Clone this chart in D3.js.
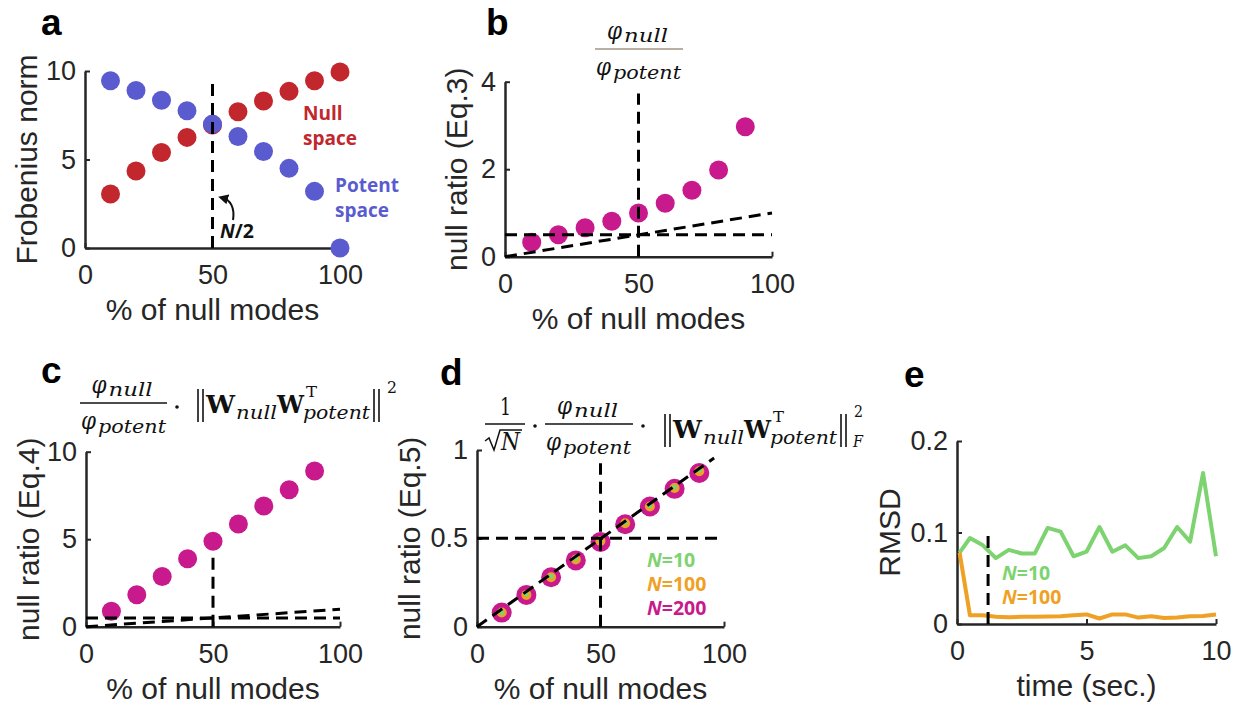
<!DOCTYPE html>
<html>
<head>
<meta charset="utf-8">
<script src="https://cdn.jsdelivr.net/npm/d3@7"></script>
<style>
  body { margin: 0; background: #fff; }
</style>
</head>
<body>
<div id="chart"></div>
<script>
// x values (% of null modes)
const nullModesA = [10, 20, 30, 40, 50, 60, 70, 80, 90, 100];
const nullModes = [10, 20, 30, 40, 50, 60, 70, 80, 90];

// panel a: Frobenius norm
const nullSpaceNorm = [3.05, 4.35, 5.4, 6.25, 6.95, 7.7, 8.3, 8.85, 9.45, 9.95];
const potentSpaceNorm = [9.45, 8.9, 8.35, 7.75, 7.0, 6.3, 5.45, 4.5, 3.2, 0];

// panel b, c: null ratio
const nullRatioEq3 = [0.33, 0.5, 0.66, 0.81, 1.0, 1.22, 1.52, 1.98, 2.97];
const nullRatioEq4 = [0.88, 1.83, 2.87, 3.88, 4.88, 5.87, 6.9, 7.83, 8.9];

// panel d: null ratio (Eq.5) for three network sizes
const eq5N200 = [0.08, 0.18, 0.28, 0.375, 0.48, 0.58, 0.68, 0.78, 0.87];
const eq5N100 = [0.08, 0.18, 0.28, 0.38, 0.485, 0.585, 0.68, 0.785, 0.88];
const eq5N10 = [0.08, 0.185, 0.285, 0.385, 0.49, 0.59, 0.685, 0.79, 0.885];

// panel e: RMSD over time
const timeSec = [0.1, 0.5, 1, 1.5, 2, 2.5, 3, 3.5, 4, 4.5, 5, 5.5, 6, 6.5, 7, 7.5, 8, 8.5, 9, 9.5, 10];
const rmsdN10 = [0.078, 0.094, 0.086, 0.072, 0.081, 0.077, 0.077, 0.105, 0.101, 0.074, 0.079, 0.106, 0.079, 0.086, 0.072, 0.074, 0.083, 0.106, 0.09, 0.165, 0.074];
const rmsdN100 = [0.078, 0.0095, 0.0095, 0.008, 0.0075, 0.0078, 0.008, 0.0082, 0.0085, 0.0095, 0.0105, 0.006, 0.0105, 0.0105, 0.007, 0.0085, 0.0065, 0.007, 0.0085, 0.0088, 0.0105];

// dashed reference lines, in data units
const refA = [[50, 0, 50, 9.4]];
const refB = [[0, 0.5, 100, 0.5], [0, 0, 100, 1], [50, 0, 50, 3.73]];
const refC = [[0, 0.5, 100, 0.5], [0, 0, 100, 1], [50, 0, 50, 4.1]];
const refD = [[0, 0.5, 97.5, 0.5], [0, 0, 96, 0.955], [50, 0, 50, 0.925]];
const refE = [[1.2, 0, 1.2, 0.099]];

const RED = '#c1272d', BLUE = '#5b5bd0', MAGENTA = '#c81a8c', ORANGE = '#efa126', GREEN = '#7dd36f';
const INK = '#262626';
const SANS = '"Liberation Sans", Arial, sans-serif';
const SERIF = '"DejaVu Serif", serif';

const svg = d3.select('#chart').append('svg')
  .attr('width', 1241)
  .attr('height', 710)
  .style('background', '#fff');

// builds the axes of one panel and returns its scales
function makePanel(box, xDom, yDom, xTicks, yTicks, xLabel, yLabel, yLabelX) {
  const g = svg.append('g');
  const x = d3.scaleLinear().domain(xDom).range([box.left, box.right]);
  const y = d3.scaleLinear().domain(yDom).range([box.bottom, box.top]);

  const xAxis = g.append('g')
    .attr('transform', `translate(0,${box.bottom})`)
    .call(d3.axisBottom(x).tickValues(xTicks).tickSizeInner(-5).tickSizeOuter(0).tickPadding(17).tickFormat(d => String(d)));
  const yAxis = g.append('g')
    .attr('transform', `translate(${box.left},0)`)
    .call(d3.axisLeft(y).tickValues(yTicks).tickSizeInner(-5).tickSizeOuter(0).tickPadding(9).tickFormat(d => String(d)));

  [xAxis, yAxis].forEach(a => {
    a.attr('font-family', SANS).attr('font-size', 27);
    a.select('.domain').attr('stroke', INK).attr('stroke-width', 2.5);
    a.selectAll('.tick line').attr('stroke', INK).attr('stroke-width', 2);
    a.selectAll('.tick text').attr('fill', INK);
  });

  g.append('text')
    .attr('x', (box.left + box.right) / 2)
    .attr('y', box.bottom + 72)
    .attr('text-anchor', 'middle')
    .attr('font-family', SANS).attr('font-size', 30).attr('fill', INK)
    .text(xLabel);
  g.append('text')
    .attr('transform', `translate(${yLabelX},${(box.top + box.bottom) / 2}) rotate(-90)`)
    .attr('text-anchor', 'middle')
    .attr('font-family', SANS).attr('font-size', 30).attr('fill', INK)
    .text(yLabel);
  return { g, x, y };
}

function dots(p, xs, ys, color, r) {
  p.g.append('g').selectAll('circle')
    .data(xs.map((d, i) => [d, ys[i]]))
    .join('circle')
    .attr('cx', d => p.x(d[0]))
    .attr('cy', d => p.y(d[1]))
    .attr('r', r)
    .attr('fill', color);
}

function dashed(p, lines) {
  p.g.append('g').selectAll('line')
    .data(lines)
    .join('line')
    .attr('x1', d => p.x(d[0])).attr('y1', d => p.y(d[1]))
    .attr('x2', d => p.x(d[2])).attr('y2', d => p.y(d[3]))
    .attr('stroke', '#000')
    .attr('stroke-width', 3)
    .attr('stroke-dasharray', '12,7');
}

function label(x, y, t, color, size, parts) {
  const txt = svg.append('text')
    .attr('x', x).attr('y', y)
    .attr('font-family', '"Open Sans", sans-serif')
    .attr('font-weight', 'bold')
    .attr('font-size', size)
    .attr('fill', color);
  if (parts) {
    txt.append('tspan').attr('font-style', 'italic').text(parts[0]);
    txt.append('tspan').text(parts[1]);
  } else {
    txt.text(t);
  }
}

function panelLetter(x, y, t) {
  svg.append('text')
    .attr('x', x).attr('y', y)
    .attr('font-family', SANS).attr('font-weight', 'bold').attr('font-size', 37)
    .attr('fill', '#000')
    .text(t);
}

// one piece of an equation
function mathPiece(p) {
  svg.append('text')
    .attr('x', p.x).attr('y', p.y)
    .attr('font-family', SERIF)
    .attr('font-size', p.size)
    .attr('font-style', p.it ? 'italic' : 'normal')
    .attr('font-weight', p.bold ? 'bold' : 'normal')
    .attr('textLength', p.w)
    .attr('lengthAdjust', 'spacingAndGlyphs')
    .attr('fill', '#111')
    .text(p.t);
}
function hline(x1, x2, y, color) {
  svg.append('line').attr('x1', x1).attr('x2', x2).attr('y1', y).attr('y2', y)
    .attr('stroke', color || '#111').attr('stroke-width', 1.5);
}
function normBars(x, y1, y2) {
  [x, x + 5].forEach(xx => svg.append('line')
    .attr('x1', xx).attr('x2', xx).attr('y1', y1).attr('y2', y2)
    .attr('stroke', '#111').attr('stroke-width', 1.6));
}
function cdot(x, y) {
  svg.append('circle').attr('cx', x).attr('cy', y).attr('r', 1.8).attr('fill', '#111');
}
// ||W_null W^T_potent|| block
function normBlock(x0, base) {
  normBars(x0 - 8, base - 24, base + 9);
  mathPiece({ t: 'W', x: x0, y: base, w: 29, size: 24, bold: true });
  mathPiece({ t: 'null', x: x0 + 30, y: base + 6, w: 41, size: 19, it: true });
  mathPiece({ t: 'W', x: x0 + 71, y: base, w: 27, size: 24, bold: true });
  mathPiece({ t: 'T', x: x0 + 100, y: base - 16, w: 11, size: 15 });
  mathPiece({ t: 'potent', x: x0 + 97, y: base + 6, w: 67, size: 19, it: true });
  normBars(x0 + 168, base - 24, base + 9);
}
function phiFrac(x1, x2, lineY, color) {
  const cx = (x1 + x2) / 2;
  mathPiece({ t: 'φ', x: cx - 32, y: lineY - 10, w: 15, size: 24, it: true });
  mathPiece({ t: 'null', x: cx - 15, y: lineY - 7, w: 44, size: 19, it: true });
  hline(x1, x2, lineY, color);
  mathPiece({ t: 'φ', x: x1 + 1, y: lineY + 26, w: 15, size: 24, it: true });
  mathPiece({ t: 'potent', x: x1 + 18, y: lineY + 30, w: 68, size: 19, it: true });
}

// ---------- panel a ----------
const pa = makePanel({ left: 85, right: 340, top: 71, bottom: 248 }, [0, 100], [0, 10],
  [0, 50, 100], [0, 5, 10], '% of null modes', 'Frobenius norm', 37);
dots(pa, nullModesA, nullSpaceNorm, RED, 9.5);
dots(pa, nullModesA, potentSpaceNorm, BLUE, 9.5);
dashed(pa, refA);
label(303, 120, 'Null', RED, 19);
label(303, 145, 'space', RED, 19);
label(335, 192, 'Potent', BLUE, 19);
label(335, 217, 'space', BLUE, 19);
label(220, 238, null, '#111', 19.5, ['N', '/2']);
svg.append('defs').append('marker')
  .attr('id', 'arr').attr('viewBox', '0 0 10 10').attr('refX', 5).attr('refY', 5)
  .attr('markerWidth', 5).attr('markerHeight', 5).attr('orient', 'auto-start-reverse')
  .append('path').attr('d', 'M0,0 L10,5 L0,10 z').attr('fill', '#111');
svg.append('path')
  .attr('d', 'M233,220 C235,207 230,200 223,198')
  .attr('fill', 'none').attr('stroke', '#111').attr('stroke-width', 2)
  .attr('marker-end', 'url(#arr)');
panelLetter(41, 35, 'a');

// ---------- panel b ----------
const pb = makePanel({ left: 505, right: 772, top: 81.7, bottom: 256.7 }, [0, 100], [0, 4],
  [0, 50, 100], [0, 2, 4], '% of null modes', 'null ratio (Eq.3)', 467);
dots(pb, nullModes, nullRatioEq3, MAGENTA, 9.5);
dashed(pb, refB);
phiFrac(595, 683, 49, '#a39484');
panelLetter(486, 35, 'b');

// ---------- panel c ----------
const pc = makePanel({ left: 86, right: 340, top: 451.7, bottom: 626.7 }, [0, 100], [0, 10],
  [0, 50, 100], [0, 5, 10], '% of null modes', 'null ratio (Eq.4)', 39);
dots(pc, nullModes, nullRatioEq4, MAGENTA, 9.5);
dashed(pc, refC);
phiFrac(80, 167, 403);
cdot(177, 407);
normBlock(206, 413);
mathPiece({ t: '2', x: 387, y: 393, w: 10, size: 17 });
panelLetter(41, 383, 'c');

// ---------- panel d ----------
const pd = makePanel({ left: 477, right: 724, top: 450, bottom: 626.7 }, [0, 100], [0, 1],
  [0, 50, 100], [0, 0.5, 1], '% of null modes', 'null ratio (Eq.5)', 420);
dots(pd, nullModes, eq5N200, MAGENTA, 10);
dots(pd, nullModes, eq5N100, ORANGE, 5);
dots(pd, nullModes, eq5N10, GREEN, 2.5);
dashed(pd, refD);
label(647, 567, null, GREEN, 19.5, ['N', '=10']);
label(647, 591, null, ORANGE, 19.5, ['N', '=100']);
label(647, 615, null, MAGENTA, 19.5, ['N', '=200']);
mathPiece({ t: '1', x: 500, y: 415, w: 11, size: 24 });
hline(485, 525, 424);
svg.append('path').attr('d', 'M485,441 L489,438 L494,450 L500,430 L522,430')
  .attr('fill', 'none').attr('stroke', '#111').attr('stroke-width', 1.5);
mathPiece({ t: 'N', x: 501, y: 450, w: 19, size: 24, it: true });
cdot(535, 426);
phiFrac(545, 633, 424);
cdot(643, 426);
normBlock(673, 438);
mathPiece({ t: '2', x: 854, y: 417, w: 9, size: 16 });
mathPiece({ t: 'F', x: 853, y: 447, w: 10, size: 16, it: true });
panelLetter(440, 385, 'd');

// ---------- panel e ----------
const pe = makePanel({ left: 957, right: 1216, top: 441, bottom: 624 }, [0, 10], [0, 0.2],
  [0, 5, 10], [0, 0.1, 0.2], 'time (sec.)', 'RMSD', 900);
const line = d3.line().x((d, i) => pe.x(timeSec[i])).y(d => pe.y(d));
pe.g.append('path').datum(rmsdN10).attr('d', line)
  .attr('fill', 'none').attr('stroke', GREEN).attr('stroke-width', 4).attr('stroke-linejoin', 'round');
pe.g.append('path').datum(rmsdN100).attr('d', line)
  .attr('fill', 'none').attr('stroke', ORANGE).attr('stroke-width', 4).attr('stroke-linejoin', 'round');
dashed(pe, refE);
label(1002, 580, null, GREEN, 19.5, ['N', '=10']);
label(1002, 604, null, ORANGE, 19.5, ['N', '=100']);
panelLetter(904, 387, 'e');
</script>
</body>
</html>
